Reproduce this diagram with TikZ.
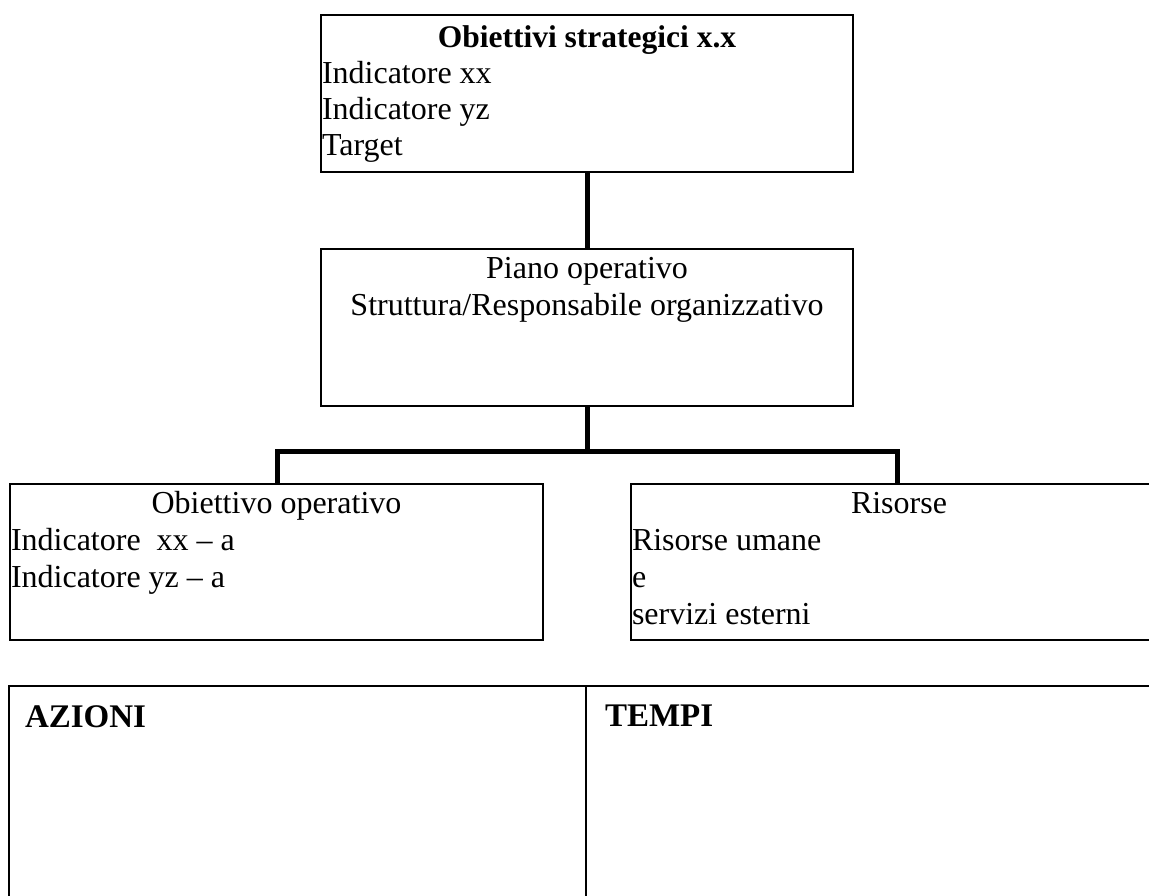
\documentclass[tikz,border=0pt]{standalone}
\usepackage{fontspec}
\setmainfont{Liberation Serif}
\begin{document}
\begin{tikzpicture}[x=1pt,y=-1pt,
  box/.style={draw=black,line width=2pt,inner sep=0pt,outer sep=0pt},
  conn/.style={draw=black,line width=5pt,line join=miter},
  txt/.style={inner sep=0pt,outer sep=0pt,font=\fontsize{32}{36.5}\selectfont},
  btxt/.style={txt,font=\fontsize{31.5}{36.5}\selectfont\bfseries},
  htxt/.style={txt,font=\fontsize{33}{36}\selectfont\bfseries}]
\useasboundingbox (0,0) rectangle (1149,895);
\clip (0,0) rectangle (1149,895);
% boxes
\node[box,minimum width=532pt,minimum height=157pt] (top) at (587,93.5) {};
\node[box,minimum width=532pt,minimum height=157pt] (mid) at (587,327.5) {};
\node[box,minimum width=533pt,minimum height=156pt] (lbox) at (276.5,562) {};
\node[box,minimum width=536pt,minimum height=156pt] (rbox) at (899,562) {};
% table
\node[box,anchor=north west,minimum width=577pt,minimum height=320pt] (azcol) at (9,686) {};
\node[box,anchor=north west,minimum width=600pt,minimum height=320pt] (tecol) at (586,686) {};
% connectors
\coordinate (jl) at (277,451);
\coordinate (jr) at (897,451);
\draw[conn] (top.south) -- (mid.north);
\draw[conn] (mid.south) -- (mid.south |- jl);
\draw[conn] (jl |- lbox.north) -- (jl) -- (jr) -- (jr |- rbox.north);
% texts top
\node[btxt,anchor=base] (t1) at (587,47.5) {Obiettivi strategici x.x};
\node[txt,anchor=base west] (t2) at (322,83.5) {Indicatore xx};
\node[txt,anchor=base west] (t3) at (322,119.5) {Indicatore yz};
\node[txt,anchor=base west] (t4) at (322,155.5) {Target};
% texts middle
\node[txt,anchor=base] (m1) at (587,278) {Piano operativo};
\node[txt,anchor=base] (m2) at (587,315) {Struttura/Responsabile organizzativo};
% left box
\node[txt,anchor=base] (l1) at (276.5,513) {Obiettivo operativo};
\node[txt,anchor=base west] (l2) at (11,550) {Indicatore\ \ xx – a};
\node[txt,anchor=base west] (l3) at (11,587) {Indicatore yz – a};
% right box
\node[txt,anchor=base] (r1) at (899,513) {Risorse};
\node[txt,anchor=base west] (r2) at (632,550) {Risorse umane};
\node[txt,anchor=base west] (r3) at (632,587) {e};
\node[txt,anchor=base west] (r4) at (632,624) {servizi esterni};
% table headers
\node[htxt,anchor=base west] (az) at (25,727) {AZIONI};
\node[htxt,anchor=base west] (te) at (605,726) {TEMPI};
\end{tikzpicture}
\end{document}
